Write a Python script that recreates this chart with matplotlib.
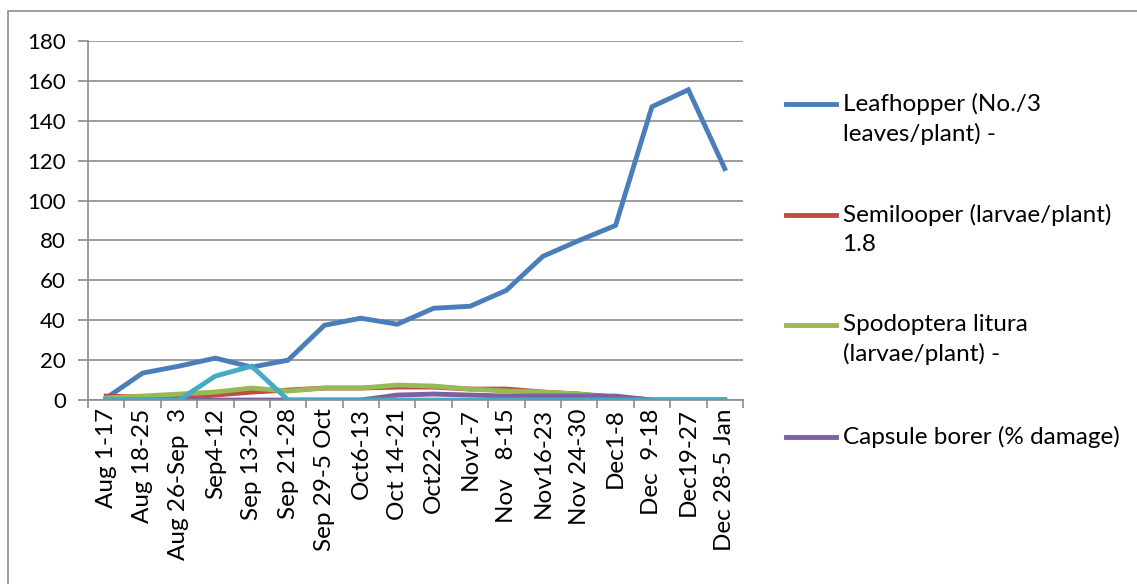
import matplotlib
matplotlib.use("Agg")
from matplotlib import pyplot as plt
from matplotlib.lines import Line2D
from matplotlib.patches import Rectangle

# categories (fortnight-ish periods)
periods = ["Aug 1-17", "Aug 18-25", "Aug 26-Sep  3", "Sep4-12", "Sep 13-20", "Sep 21-28",
           "Sep 29-5 Oct", "Oct6-13", "Oct 14-21", "Oct22-30", "Nov1-7", "Nov   8-15",
           "Nov16-23", "Nov 24-30", "Dec1-8", "Dec  9-18", "Dec19-27", "Dec 28-5 Jan"]

leafhopper = [1, 13.5, 17, 21, 16.5, 20, 37.5, 41, 38, 46, 47, 55, 72, 80, 87.5, 147, 155.5, 116]
semilooper = [2, 1.5, 1, 2.5, 4, 5, 6, 6, 6.5, 6.5, 5.5, 5.5, 4, 3, 1.5, 0, 0, 0]
spodoptera = [1, 2, 3, 4, 6, 4.5, 6, 6, 7.5, 7, 5.5, 4.5, 4, 3, 1, 0, 0, 0]
capsule_borer = [0, 0, 0, 0, 0, 0, 0, 0, 2.5, 3, 2.5, 2, 2, 2, 2, 0, 0, 0]
fifth_series = [0, 0, 0, 12, 17, 0, 0, 0, 0, 0, 0, 0, 0, 0, 0, 0, 0, 0]

legend_labels = ["Leafhopper (No./3\nleaves/plant) -",
                 "Semilooper (larvae/plant)\n1.8",
                 "Spodoptera litura\n(larvae/plant) -",
                 "Capsule borer (% damage)"]

colors = ["#4A7EBB", "#BE4B48", "#98B954", "#7D60A0", "#46AAC5"]
FONT = "Lato"

fig = plt.figure(figsize=(11.37, 5.84), dpi=100)
ax = fig.add_axes([0.0774, 0.315, 0.576, 0.615])

x = list(range(len(periods)))
series = [leafhopper, semilooper, spodoptera, capsule_borer, fifth_series]
for vals, c in zip(series, colors):
    ax.plot(x, vals, color=c, linewidth=3.5, solid_joinstyle="miter")

ax.set_xlim(-0.5, len(periods) - 0.5)
ax.set_ylim(0, 180)
ax.set_yticks(range(0, 181, 20))
ax.yaxis.grid(True, color="#8c8c8c", linewidth=1.2)
ax.set_axisbelow(True)

# ticks between categories, labels at centers
ax.set_xticks([i - 0.5 for i in range(len(periods) + 1)])
ax.set_xticklabels([])
ax.set_xticks(x, minor=True)
ax.set_xticklabels(periods, minor=True, rotation=90, fontsize=17.5, family=FONT, va="top")
ax.tick_params(axis="x", which="minor", length=0, pad=6)
ax.tick_params(axis="x", which="major", length=6, width=1.2, color="#8c8c8c", direction="out")
ax.tick_params(axis="y", length=7, width=1.2, color="#8c8c8c", labelsize=16, pad=9)
for lab in ax.get_yticklabels():
    lab.set_family(FONT)

for s in ["top", "right"]:
    ax.spines[s].set_visible(False)
for s in ["left", "bottom"]:
    ax.spines[s].set_color("#8c8c8c")
    ax.spines[s].set_linewidth(1.2)

# legend drawn by hand so the line sits beside the first text line
leg_y = [0.822, 0.632, 0.443, 0.252]
for lab, c, yy in zip(legend_labels, colors, leg_y):
    fig.add_artist(Line2D([0.691, 0.735], [yy, yy], color=c, linewidth=3.5,
                          transform=fig.transFigure))
    fig.text(0.741, yy + 0.019, lab, fontsize=17.5, family=FONT, va="top",
             linespacing=1.45)

fig.add_artist(Rectangle((0.007, -0.01), 1.0, 0.992, transform=fig.transFigure,
                         fill=False, edgecolor="#8c8c8c", linewidth=1.2))

fig.savefig("out.png", dpi=100)
